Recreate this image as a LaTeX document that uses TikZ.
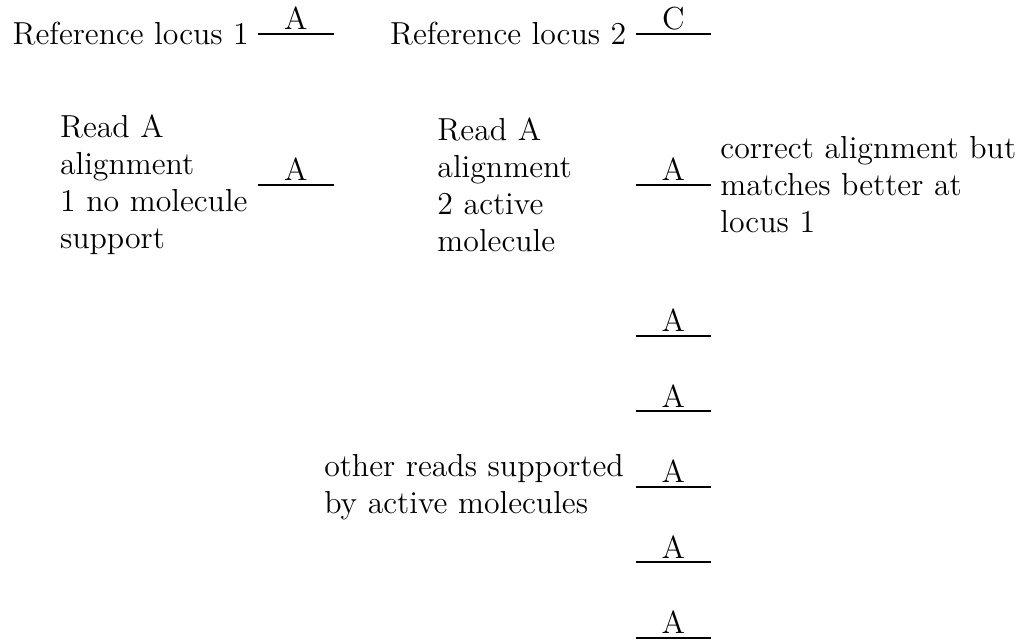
\documentclass[tikz,border=0pt]{standalone}
\usepackage{fontspec}
\tikzset{
  every node/.style={font=\large},
  seg/.style={thick},
  base/.style={midway, above, inner sep=1.2pt},
  lefttext/.style={anchor=east},
  righttext/.style={anchor=west},
  readnote/.style={anchor=east, text width=2.5cm, align=left},
}
\begin{document}
\begin{tikzpicture}
\useasboundingbox (-3.42,0.45) rectangle (10.12,-8.04);

% segment end points: column 1 at x=0..1, column 2 at x=5..6
\foreach \n/\x/\y in {a/0/0, b/5/0, c/0/-2, d/5/-2, e/5/-4, f/5/-5, g/5/-6, h/5/-7, i/5/-8}{
  \coordinate (\n0) at (\x,\y);
  \coordinate (\n1) at (\x+1,\y);
}

% reference loci
\draw[seg] (a0) -- node[base] (ba) {A} (a1);
\draw[seg] (b0) -- node[base] (bb) {C} (b1);
\node[lefttext] (ref1) at (a0) {Reference locus 1};
\node[lefttext] (ref2) at (b0) {Reference locus 2};

% alignments of read A
\draw[seg] (c0) -- node[base] (bc) {A} (c1);
\draw[seg] (d0) -- node[base] (bd) {A} (d1);
\node[readnote] (aln1) at (c0) {Read A alignment 1 no molecule support};
\node[readnote] (aln2) at (d0) {Read A alignment 2 active molecule};
\node[righttext, text width=3.95cm, align=left] (why) at (d1)
  {correct alignment but matches better at locus 1};

% further reads at locus 2
\draw[seg] (e0) -- node[base] (be) {A} (e1);
\draw[seg] (f0) -- node[base] (bf) {A} (f1);
\draw[seg] (g0) -- node[base] (bg) {A} (g1);
\draw[seg] (h0) -- node[base] (bh) {A} (h1);
\draw[seg] (i0) -- node[base] (bi) {A} (i1);
\node[anchor=east, text width=4cm, align=left] (others) at (g0)
  {other reads supported by active molecules};
\end{tikzpicture}
\end{document}
